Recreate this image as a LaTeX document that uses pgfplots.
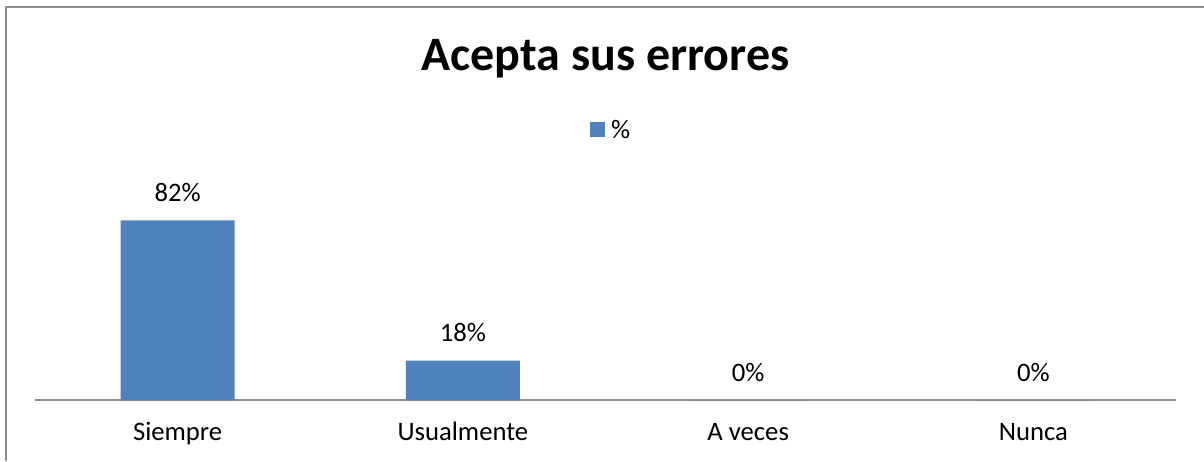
\documentclass[border=0pt]{standalone}
\usepackage{pgfplots}
\pgfplotsset{compat=1.18}
\usepackage{fontspec}
\setmainfont{Carlito}
\definecolor{barblue}{HTML}{4F81BD}
\definecolor{axgray}{HTML}{8C8C8C}
\begin{document}
\begin{tikzpicture}[x=1pt,y=1pt]
\path[use as bounding box] (0,0) rectangle (1204,461);
\draw[axgray, line width=2pt] (6,0) -- (6,453.5) -- (1204,453.5);
\node[anchor=base, font=\fontsize{48}{56}\selectfont\bfseries] at (605.5,390) {Acepta sus errores};
\begin{axis}[
  at={(35pt,61pt)}, anchor=south west,
  scale only axis, width=1141pt, height=219pt,
  xmin=-0.5, xmax=3.5, ymin=0, ymax=100,
  axis x line*=bottom, axis y line=none,
  x axis line style={-, axgray, line width=1.5pt},
  xtick={0,1,2,3}, xticklabels={Siempre,Usualmente,A veces,Nunca},
  major tick length=0pt, xtick style={draw=none},
  xticklabel style={font=\fontsize{26.67}{32}\selectfont, anchor=base, inner sep=0pt, yshift=-40pt},
  ybar, bar width=114pt,
  /pgf/number format/assume math mode=true,
  nodes near coords={\pgfmathprintnumber{\pgfplotspointmeta}\%},
  every node near coord/.append style={font=\fontsize{26.67}{32}\selectfont, anchor=base, inner sep=0pt, yshift=19pt, text=black},
  legend style={at={(0.505,1.233)}, anchor=center, draw=none, fill=none, font=\fontsize{26.67}{32}\selectfont, inner sep=0pt},
  legend image code/.code={\fill[barblue] (0pt,-7.5pt) rectangle (15pt,7.5pt);},
  clip=false,
]
\addplot[fill=barblue, draw=none] coordinates {(0,82) (1,18) (2,0) (3,0)};
\addlegendentry{\hspace{4pt}\%}
\end{axis}
\end{tikzpicture}
\end{document}
